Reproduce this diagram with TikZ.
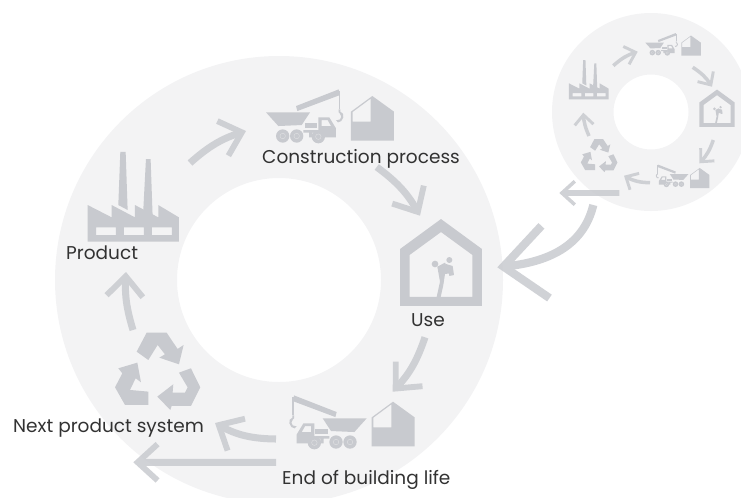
\documentclass[tikz,border=0pt]{standalone}
\usepackage{fontspec}
\setmainfont{Poppins}
\usetikzlibrary{arrows.meta, positioning}
\definecolor{ringgray}{RGB}{243, 243, 244}
\definecolor{icongray}{RGB}{200, 202, 207}
\definecolor{labelgray}{RGB}{50, 50, 50}
\tikzset{
  ringfill/.style={fill=ringgray, even odd rule},
  iconfill/.style={fill=icongray, even odd rule},
  flowbig/.style={draw=icongray, line width=7pt, -{Straight Barb[length=36pt, width=62pt, line width=7pt]}},
  flowmain/.style={draw=icongray, line width=6pt, -{Straight Barb[length=17pt, width=31pt, line width=5pt]}},
  flowshort/.style={draw=icongray, line width=5pt, -{Straight Barb[length=11pt, width=20pt, line width=3pt]}},
  flowsmall/.style={draw=icongray, line width=3pt, -{Straight Barb[length=8.5pt, width=16pt, line width=2.5pt]}},
  steplabel/.style={font=\fontsize{15.8}{18}\selectfont, text=labelgray, inner sep=0pt, anchor=base west},
  % icons, drawn around their own centre
  truck/.pic={
    \fill[iconfill] (-117,-13) -- (15,-13) -- (-10,25) -- (-80,28) -- cycle;
    \fill[iconfill] (-27,-32) -- (101,-82) -- (105,-65) -- (-23,-17) -- cycle;
    \fill[iconfill] (101,-78) -- (106,-78) -- (106,-22) -- (101,-22) -- cycle;
    \fill[iconfill] (101,-22) -- (106,-22) -- (106,-15) -- (114,-9) -- (115,2) -- (109,13) -- (99,17) -- (93,10) -- (98,10) -- (105,8) -- (109,0) -- (105,-9) -- (101,-13) -- cycle;
    \fill[iconfill] (40,2) -- (73,2) -- (93,35) -- (93,62) -- (40,62) -- cycle (50,10) -- (68,10) -- (78,28) -- (50,28) -- cycle;
    \fill[iconfill] (0,18) -- (37,18) -- (37,35) -- (0,35) -- cycle;
    \fill[iconfill] (-5,40) -- (37,40) -- (37,48) -- (22,48) -- (22,62) -- (12,62) -- (12,48) -- (-5,48) -- cycle;
    \foreach \wx/\wy in {-67/58, -25/58, 40/60} {
      \fill[iconfill] (\wx,\wy) circle[radius=20];
      \fill[fill=icongray!50!ringgray, even odd rule] (\wx,\wy) circle[radius=9] circle[radius=7.5];
    }
  },
  shell/.pic={
    \fill[iconfill] (-64,67) -- (-64,-20) -- (0,-67) -- (65,-20) -- (65,67) -- cycle
      (-59,10) -- (-5,10) -- (-5,-59) -- (-59,-19) -- cycle;
  },
  home/.pic={
    \fill[iconfill] (0,-129) -- (-123,-39) -- (-123,132) -- (123,132) -- (123,-39) -- cycle
      (0,-90) -- (-94.5,-21) -- (-94.5,105) -- (94.5,105) -- (94.5,-21) -- cycle;
    \fill[iconfill] (-18,6) circle[radius=10] (25,-6) circle[radius=9];
    \fill[iconfill] (-11,14) -- (12,2) -- (27,34) -- (12,36) -- (7,69) -- (-1,105) -- (-13,105) -- (-3,59) -- cycle;
    \fill[iconfill] (15,6) -- (35,12) -- (39,39) -- (25,42) -- (22,24) -- (9,29) -- cycle;
  },
  plant/.pic={
    \fill[iconfill] (-137,25) -- (-65,62) -- (-65,25) -- (5,62) -- (5,25) -- (75,62) -- (75,25) -- (137,62) -- (137,135) -- (-137,135) -- cycle
      (-112,92) -- (-52,92) -- (-52,115) -- (-112,115) -- cycle
      (-28,92) -- (32,92) -- (32,115) -- (-28,115) -- cycle
      (56,92) -- (116,92) -- (116,115) -- (56,115) -- cycle;
    \fill[iconfill] (-39,-135) -- (-23,-135) -- (-17,40) -- (-45,25) -- cycle;
    \fill[iconfill] (38,-113) -- (52,-113) -- (58,58) -- (30,40) -- cycle;
  },
  recycle/.pic={
    \fill[iconfill] (-62,-50) -- (-32,-107) -- (28,-107) -- (61,-58) -- (79,-70) -- (65,-12) -- (6,-32) -- (23,-42) -- (1,-70) -- (-27,-25) -- cycle;
    \fill[iconfill] (65,13) -- (101,0) -- (129,57) -- (101,113) -- (43,113) -- (39,125) -- (0,85) -- (48,48) -- (46,73) -- (83,73) -- (91,57) -- cycle;
    \fill[iconfill] (-117,0) -- (-60,-17) -- (-49,42) -- (-65,30) -- (-82,65) -- (-27,70) -- (-27,110) -- (-97,110) -- (-127,57) -- (-105,15) -- cycle;
  },
}

\begin{document}
\begin{tikzpicture}[x=0.03cm, y=-0.03cm]
  \clip (0,0) rectangle (741,497);

  % Rings
  \fill[ringfill] (279,280) circle[radius=224] circle[radius=102];
  \fill[ringfill] (651,112) circle[radius=99] circle[radius=37.5];

  % Main ring icons
  \pic[scale=0.333] at (133.3,196.7) {plant};
  \pic[scale=0.333] at (305,116.7) {truck};
  \pic[scale=0.333] at (372.3,118.3) {shell};
  \pic[scale=0.333] at (441,262) {home};
  \pic[xscale=-0.333, yscale=0.333] at (327.7,422.7) {truck};
  \pic[scale=0.333] at (393,424) {shell};
  \pic[scale=0.333] at (157.3,368.3) {recycle};

  % Small ring icons
  \pic[scale=0.145] at (588.8,79.7) {plant};
  \pic[scale=0.14] at (661.7,44.5) {truck};
  \pic[scale=0.15] at (691,45.6) {shell};
  \pic[scale=0.143] at (717,108) {home};
  \pic[xscale=-0.14, yscale=0.14] at (672,176) {truck};
  \pic[scale=0.15] at (699.7,178) {shell};
  \pic[scale=0.143] at (599,154.3) {recycle};

  % Labels
  \node[steplabel] (construction) at (262,163) {Construction process};
  \node[steplabel] (product) at (66,259) {Product};
  \node[steplabel] (use) at (411,326) {Use};
  \node[steplabel] (nextsystem) at (13,432.5) {Next product system};
  \node[steplabel] (endoflife) at (282,484) {End of building life};

  % Arrow ends
  \coordinate (plantout) at (190,163);
  \coordinate (truckin) at (246,131);
  \coordinate (truckout) at (376.7,167);
  \coordinate (homein) at (420,215.7);
  \coordinate (homeout) at (425,337.3);
  \coordinate (wreckin) at (392.7,391.7);
  \coordinate (wreckout) at (276,439);
  \coordinate (nextin) at (215,423);
  \coordinate (longout) at (276,462.3);
  \coordinate (longin) at (133.3,462.3);
  \coordinate (recycleout) at (133,330);
  \coordinate (plantin) at (126,272);
  \coordinate (transferout) at (593.3,205);
  \coordinate (transferin) at (497.3,267.3);
  \coordinate (smalllongout) at (619.3,193);
  \coordinate (smalllongin) at (559.3,193);
  \coordinate (splantout) at (613.3,65.7);
  \coordinate (struckin) at (637.7,51.7);
  \coordinate (struckout) at (692.7,67.3);
  \coordinate (shomein) at (712,86.7);
  \coordinate (shomeout) at (713.3,140);
  \coordinate (swreckin) at (699.3,163.3);
  \coordinate (swreckout) at (650,182.7);
  \coordinate (srecyclein) at (624,175.7);
  \coordinate (srecycleout) at (589,136);
  \coordinate (splantin) at (583.3,112.7);

  % Arrows
  \begin{scope}[transparency group, opacity=0.85]
    \draw[flowmain] (plantout) to[bend left=12] (truckin);
    \draw[flowmain] (truckout) to[bend left=12] (homein);
    \draw[flowmain] (homeout) to[bend left=12] (wreckin);
    \draw[flowmain] (wreckout) to[bend left=14] (nextin);
    \draw[flowmain] (longout) -- (longin);
    \draw[flowmain] (recycleout) to[bend left=10] (plantin);
    \draw[flowbig] (transferout) .. controls (583,248) and (545,262) .. (transferin);
    \draw[flowshort] (smalllongout) -- (smalllongin);
    \draw[flowsmall] (splantout) to[bend left=12] (struckin);
    \draw[flowsmall] (struckout) to[bend left=12] (shomein);
    \draw[flowsmall] (shomeout) to[bend left=12] (swreckin);
    \draw[flowsmall] (swreckout) to[bend left=14] (srecyclein);
    \draw[flowsmall] (srecycleout) to[bend left=10] (splantin);
  \end{scope}
\end{tikzpicture}
\end{document}
